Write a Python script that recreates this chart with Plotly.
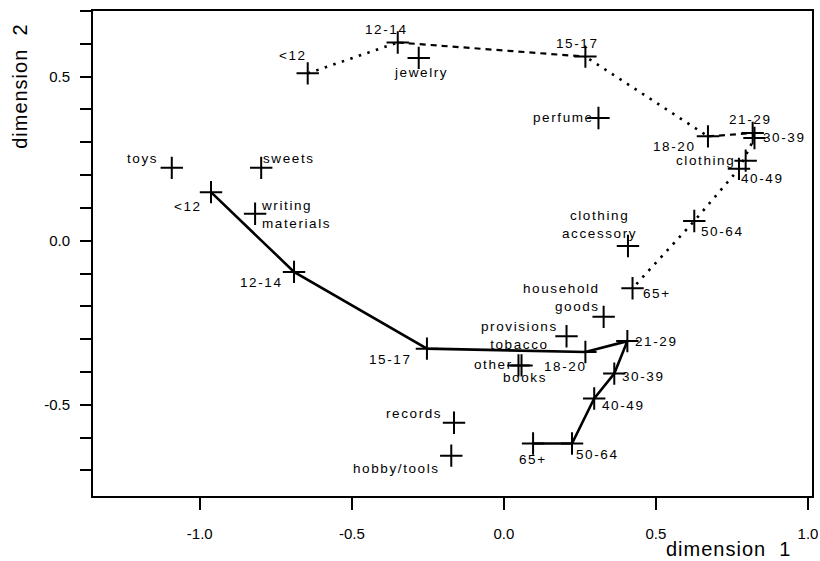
import plotly.graph_objects as go

# ---------------- data ----------------
age_groups = ["<12", "12-14", "15-17", "18-20", "21-29", "30-39", "40-49", "50-64", "65+"]

# dotted profile (upper curve)
dotted_x = [-0.645, -0.349, 0.268, 0.671, 0.818, 0.824, 0.773, 0.626, 0.423]
dotted_y = [0.510, 0.604, 0.561, 0.318, 0.328, 0.313, 0.219, 0.060, -0.145]

# solid profile (lower curve)
solid_x = [-0.963, -0.690, -0.253, 0.268, 0.406, 0.363, 0.297, 0.224, 0.096]
solid_y = [0.148, -0.095, -0.329, -0.339, -0.306, -0.405, -0.481, -0.618, -0.618]

products = ["toys", "sweets", "writing\nmaterials", "jewelry", "perfume", "clothing",
            "clothing\naccessory", "household\ngoods", "provisions\ntobacco", "other",
            "books", "records", "hobby/tools"]
product_x = [-1.092, -0.798, -0.818, -0.280, 0.311, 0.795, 0.408, 0.328, 0.206, 0.048,
             0.058, -0.164, -0.173]
product_y = [0.222, 0.222, 0.082, 0.557, 0.374, 0.244, -0.016, -0.232, -0.291, -0.380,
             -0.380, -0.555, -0.655]

x_ticks = [-1.0, -0.5, 0.0, 0.5, 1.0]
x_tick_labels = ["-1.0", "-0.5", "0.0", "0.5", "1.0"]
y_ticks = [-0.7, -0.6, -0.5, -0.4, -0.3, -0.2, -0.1, 0.0, 0.1, 0.2, 0.3, 0.4, 0.5, 0.6, 0.7]
y_tick_labels = ["", "", "-0.5", "", "", "", "", "0.0", "", "", "", "", "0.5", "", ""]

# ---------------- label placement (pixels: xanchor, dx, dy-up) ----------------
dotted_label_pos = [("center", -15, 18), ("center", -11, 13), ("center", -8, 13),
                    ("center", -33, -10), ("center", -2, 14), ("center", 30, 0),
                    ("center", 24, -10), ("center", 28, -10), ("center", 24, -5)]
solid_label_pos = [("center", -23, -14), ("center", -33, -11), ("center", -36, -11),
                   ("center", -20, -15), ("center", 29, 0), ("center", 29, -3),
                   ("center", 29, -7), ("center", 25, -11), ("center", 0, -16)]
product_label_pos = [("center", -29, 9), ("center", 28, 9), ("left", 4, -1),
                     ("center", 2, -15), ("center", -35, 0), ("center", -40, 0),
                     ("center", -28, 21), ("right", -2, 19), ("center", -47, 1),
                     ("right", -3, 1), ("center", 3, -12), ("right", -10, 9),
                     ("right", -9, -13)]

FONT = "Liberation Sans, Arial, Helvetica, sans-serif"
LS = 1.6


def spaced(text, ls=LS):
    return "<br>".join(f'<span style="letter-spacing:{ls}px">{t}</span>' for t in text.split("\n"))


fig = go.Figure()

cross = dict(symbol="cross-thin", size=16, line=dict(width=2, color="black"), color="black")

# dotted curve: dots, with dashed sections
fig.add_trace(go.Scatter(x=dotted_x, y=dotted_y, mode="lines",
                         line=dict(color="black", width=2.6, dash="2.5px,6.5px"),
                         hoverinfo="skip", showlegend=False))
for a, b in [(1, 2), (3, 5)]:
    fig.add_trace(go.Scatter(x=dotted_x[a:b + 1], y=dotted_y[a:b + 1], mode="lines",
                             line=dict(color="white", width=4), hoverinfo="skip", showlegend=False))
    fig.add_trace(go.Scatter(x=dotted_x[a:b + 1], y=dotted_y[a:b + 1], mode="lines",
                             line=dict(color="black", width=2.2, dash="6px,5px"),
                             hoverinfo="skip", showlegend=False))
fig.add_trace(go.Scatter(x=dotted_x, y=dotted_y, mode="markers", marker=cross,
                         text=age_groups, showlegend=False))

# solid curve
fig.add_trace(go.Scatter(x=solid_x, y=solid_y, mode="lines+markers",
                         line=dict(color="black", width=2.6), marker=cross,
                         text=age_groups, showlegend=False))

# products
fig.add_trace(go.Scatter(x=product_x, y=product_y, mode="markers", marker=cross,
                         text=products, showlegend=False))

annots = []


def add_labels(names, xs, ys, pos):
    for n, x, y, (anc, dx, dy) in zip(names, xs, ys, pos):
        annots.append(dict(x=x, y=y, xref="x", yref="y", text=spaced(n), showarrow=False,
                           xanchor=anc, yanchor="middle", xshift=dx, yshift=dy, align=anc,
                           font=dict(family=FONT, size=13.5, color="black")))


add_labels(age_groups, dotted_x, dotted_y, dotted_label_pos)
add_labels(age_groups, solid_x, solid_y, solid_label_pos)
add_labels(products, product_x, product_y, product_label_pos)

W, H = 820, 561
L, R, T, B = 92.5, 812, 10.7, 495.7


def px_to_paper(px, py):
    return (px - L) / (R - L), (B - py) / (B - T)


tx, ty = px_to_paper(728.5, 549)
annots.append(dict(x=tx, y=ty, xref="paper", yref="paper", text=spaced("dimension  1", 1.0),
                   showarrow=False, xanchor="center", yanchor="middle",
                   font=dict(family=FONT, size=20, color="black")))
tx, ty = px_to_paper(20, 86)
annots.append(dict(x=tx, y=ty, xref="paper", yref="paper", text=spaced("dimension  2", 1.0),
                   showarrow=False, textangle=-90, xanchor="center", yanchor="middle",
                   font=dict(family=FONT, size=20, color="black")))

fig.update_layout(
    width=W, height=H,
    margin=dict(l=L, r=W - R, t=T, b=H - B, pad=0, autoexpand=False),
    paper_bgcolor="white", plot_bgcolor="white",
    annotations=annots,
    showlegend=False,
    xaxis=dict(range=[-1.351, 1.0131], tickvals=x_ticks, ticktext=x_tick_labels,
               automargin=False,
               showgrid=False, zeroline=False, showline=True, linecolor="black", linewidth=2,
               mirror=True, ticks="outside", ticklen=12, tickwidth=2, tickcolor="black",
               ticklabelstandoff=11,
               tickfont=dict(family=FONT, size=15, color="black")),
    yaxis=dict(range=[-0.778, 0.70], tickvals=y_ticks, ticktext=y_tick_labels,
               automargin=False,
               showgrid=False, zeroline=False, showline=True, linecolor="black", linewidth=2,
               mirror=True, ticks="outside", ticklen=11, tickwidth=2, tickcolor="black",
               ticklabelstandoff=7,
               tickfont=dict(family=FONT, size=15, color="black")),
)

# remove the default 8px page margin so the figure sits at the window's corner
fig.write_html("out.html", config={"displayModeBar": False},
               post_script="document.body.style.margin='0';")
